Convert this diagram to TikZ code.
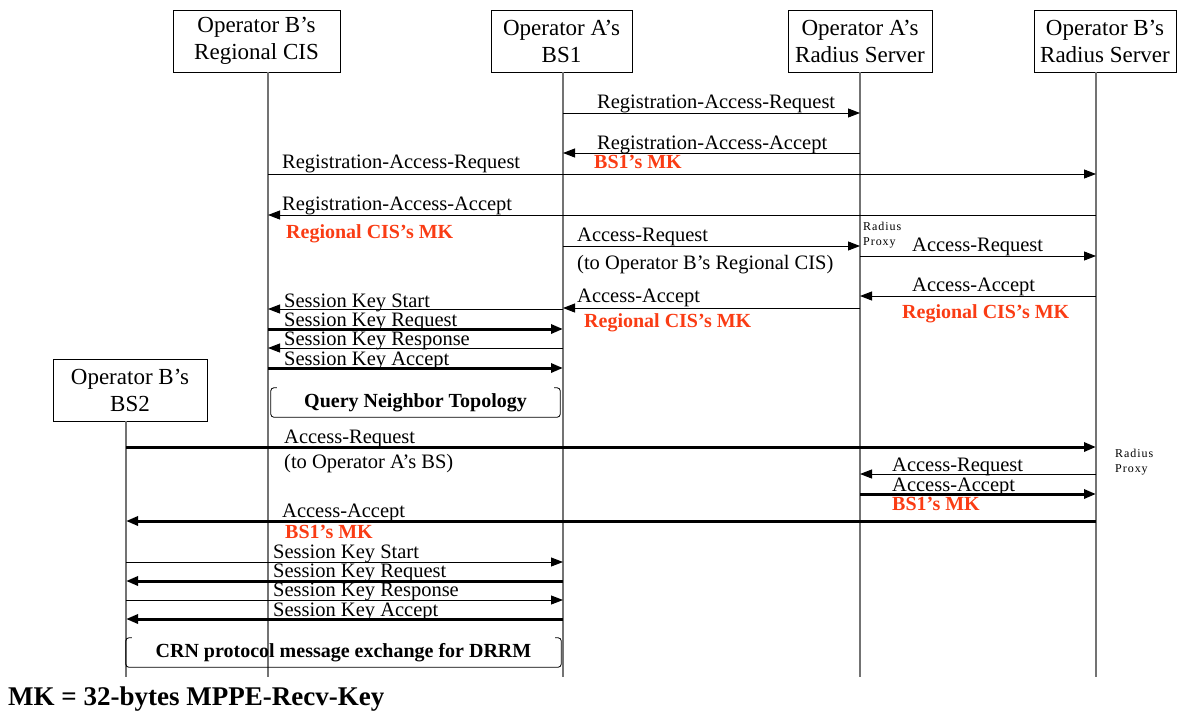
\documentclass[tikz,border=0pt]{standalone}
\usepackage{fontspec}
\setmainfont{Liberation Serif}
\usetikzlibrary{arrows.meta}
\definecolor{mkred}{RGB}{250,60,20}

\tikzset{
  actor/.style={draw, line width=0.8pt, align=center, inner sep=0pt,
    minimum height=62pt, font=\fontsize{23}{27}\selectfont},
  life/.style={draw=black!55, line width=1.2pt},
  msg/.style={-{Triangle[length=12pt,width=9pt]}, line width=0.9pt},
  bmsg/.style={msg, line width=3pt},
  lbl/.style={anchor=base west, inner sep=0pt, font=\fontsize{20.5}{24}\selectfont},
  mk/.style={lbl, text=mkred, font=\fontsize{20}{24}\selectfont\bfseries},
  proxy/.style={anchor=north west, inner sep=0pt, align=left,
    font=\fontsize{12}{14.5}\selectfont\addfontfeatures{LetterSpace=8}},
  frametxt/.style={inner sep=0pt, minimum height=29pt,
    font=\fontsize{20}{22}\selectfont\bfseries},
  brace/.style={line width=0.8pt, rounded corners=3pt}
}

\begin{document}
\begin{tikzpicture}[x=1pt, y=-1pt]
    \useasboundingbox (0,0) rectangle (1177,715);

    %% Entities
    \node[actor, minimum width=167pt] (cis) at (256.5,41) {Operator B’s\\Regional CIS};
    \node[actor, minimum width=141pt] (bs1) at (561.5,41) {Operator A’s\\BS1};
    \node[actor, minimum width=144pt] (arad) at (860,41) {Operator A’s\\Radius Server};
    \node[actor, minimum width=142pt] (brad) at (1105,41) {Operator B’s\\Radius Server};
    \node[actor, minimum width=154pt] (bs2) at (130,390) {Operator B’s\\BS2};

    % Lifelines
    \coordinate (cisL) at (268,677);
    \coordinate (bs1L) at (563,677);
    \coordinate (aradL) at (860,677);
    \coordinate (bradL) at (1096,677);
    \coordinate (bs2L) at (126,677);
    \draw[life] (cis.south -| cisL) -- (cisL);
    \draw[life] (bs1.south -| bs1L) -- (bs1L);
    \draw[life] (arad.south -| aradL) -- (aradL);
    \draw[life] (brad.south -| bradL) -- (bradL);
    \draw[life] (bs2.south -| bs2L) -- (bs2L);

    %% Registration of BS1
    \draw[msg] (bs1L |- 0,113) -- (aradL |- 0,113);
    \node[lbl] (t1) at (597,108) {Registration-Access-Request};
    \draw[msg] (aradL |- 0,153) -- (bs1L |- 0,153);
    \node[lbl] (t2) at (597,149) {Registration-Access-Accept};
    \node[mk] (k2) at (594,168) {BS1’s MK};

    %% Registration of the regional CIS
    \draw[msg] (cisL |- 0,174) -- (bradL |- 0,174);
    \node[lbl] (t3) at (282,168) {Registration-Access-Request};
    \draw[msg] (bradL |- 0,215) -- (cisL |- 0,215);
    \node[lbl] (t4) at (282,210) {Registration-Access-Accept};
    \node[mk] (k4) at (286,238) {Regional CIS’s MK};

    %% BS1 asks for the CIS key
    \draw[msg] (bs1L |- 0,246) -- (aradL |- 0,246);
    \node[lbl] (t5) at (577,241) {Access-Request};
    \node[lbl] (t5b) at (577,269) {(to Operator B’s Regional CIS)};
    \node[proxy] (px1) at (863,222) {Radius\\Proxy};
    \draw[msg] (aradL |- 0,256) -- (bradL |- 0,256);
    \node[lbl] (t6) at (912,251) {Access-Request};
    \draw[msg] (bradL |- 0,296) -- (aradL |- 0,296);
    \node[lbl] (t7) at (912,291) {Access-Accept};
    \node[mk] (k7) at (902,318) {Regional CIS’s MK};
    \draw[msg] (aradL |- 0,308) -- (bs1L |- 0,308);
    \node[lbl] (t8) at (577,302) {Access-Accept};
    \node[mk] (k8) at (584,327) {Regional CIS’s MK};

    % Session key CIS -- BS1
    \draw[msg] (bs1L |- 0,309) -- (cisL |- 0,309);
    \node[lbl] (s1) at (284,307) {Session Key Start};
    \draw[bmsg] (cisL |- 0,329) -- (bs1L |- 0,329);
    \node[lbl] (s2) at (284,326) {Session Key Request};
    \draw[msg] (bs1L |- 0,348) -- (cisL |- 0,348);
    \node[lbl] (s3) at (284,345) {Session Key Response};
    \draw[bmsg] (cisL |- 0,368) -- (bs1L |- 0,368);
    \node[lbl] (s4) at (284,365) {Session Key Accept};

    \node[frametxt, minimum width=289pt] (qnt) at (415.5,402.5) {Query Neighbor Topology};
    \draw[brace] ([xshift=6pt]qnt.north west) -- (qnt.north west) -- (qnt.south west)
        -- (qnt.south east) -- (qnt.north east) -- ([xshift=-6pt]qnt.north east);

    %% BS2 asks for the BS1 key
    \draw[bmsg] (bs2L |- 0,447) -- (bradL |- 0,447);
    \node[lbl] (t9) at (284,443) {Access-Request};
    \node[lbl] (t9b) at (284,468) {(to Operator A’s BS)};
    \node[proxy] (px2) at (1115,449) {Radius\\Proxy};
    \draw[msg] (bradL |- 0,474) -- (aradL |- 0,474);
    \node[lbl] (t10) at (892,471) {Access-Request};
    \draw[bmsg] (aradL |- 0,494) -- (bradL |- 0,494);
    \node[lbl] (t11) at (892,491) {Access-Accept};
    \node[mk] (k11) at (892,510) {BS1’s MK};
    \draw[bmsg] (bradL |- 0,521) -- (bs2L |- 0,521);
    \node[lbl] (t12) at (282,517) {Access-Accept};
    \node[mk] (k12) at (285,538) {BS1’s MK};

    % Session key BS2 -- BS1
    \draw[msg] (bs2L |- 0,562) -- (bs1L |- 0,562);
    \node[lbl] (s5) at (273,558) {Session Key Start};
    \draw[bmsg] (bs1L |- 0,581) -- (bs2L |- 0,581);
    \node[lbl] (s6) at (273,577) {Session Key Request};
    \draw[msg] (bs2L |- 0,600) -- (bs1L |- 0,600);
    \node[lbl] (s7) at (273,596) {Session Key Response};
    \draw[bmsg] (bs1L |- 0,619) -- (bs2L |- 0,619);
    \node[lbl] (s8) at (273,616) {Session Key Accept};

    \node[frametxt, minimum width=435pt] (crn) at (343.5,652.5) {CRN protocol message exchange for DRRM};
    \draw[brace] ([xshift=6pt]crn.north west) -- (crn.north west) -- (crn.south west)
        -- (crn.south east) -- (crn.north east) -- ([xshift=-6pt]crn.north east);

    % Key note
    \node[anchor=base west, inner sep=0pt, font=\fontsize{27}{30}\selectfont\bfseries]
        (note) at (8,705) {MK = 32-bytes MPPE-Recv-Key};

\end{tikzpicture}
\end{document}
